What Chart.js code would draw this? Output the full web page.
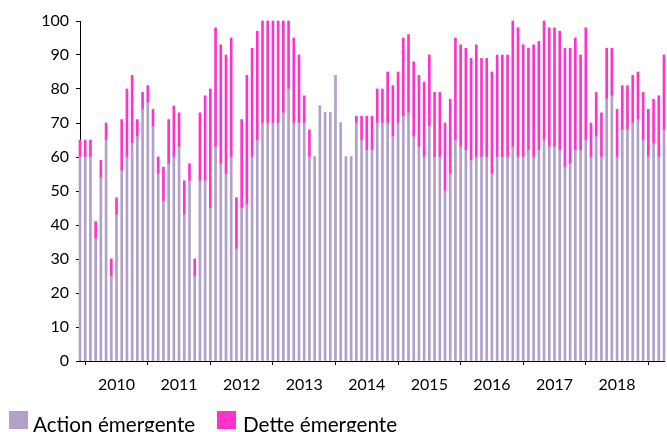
<!DOCTYPE html>
<html>
<head>
<meta charset="utf-8">
<script src="https://cdn.jsdelivr.net/npm/chart.js@4/dist/chart.umd.min.js"></script>
<style>
    html, body { margin: 0; padding: 0; background: #fff; overflow: hidden; }
    #wrap { position: relative; width: 667px; height: 432px; }
    .legend-item { position: absolute; top: 411px; font: 20.7px Lato, sans-serif; color: #000; line-height: 20px; white-space: nowrap; }
    .legend-box { position: absolute; top: 0; width: 19px; height: 18px; }
    .legend-text { position: absolute; top: 3px; }
</style>
</head>
<body>
<div id="wrap">
    <canvas id="fundChart" width="667" height="432"></canvas>
    <div class="legend-item" style="left:9px"><span class="legend-box" style="left:0;background:#b1a0c7"></span><span class="legend-text" style="left:24px">Action émergente</span></div>
    <div class="legend-item" style="left:217px"><span class="legend-box" style="left:0;background:#ff33cc"></span><span class="legend-text" style="left:26px">Dette émergente</span></div>
</div>
<script>
// monthly series, Dec 2009 -> Apr 2019
const years = [2009, 2010, 2011, 2012, 2013, 2014, 2015, 2016, 2017, 2018, 2019];
const yearLabels = ["2010", "2011", "2012", "2013", "2014", "2015", "2016", "2017", "2018"];

const actionEmergente = [
    60,
    60, 60, 36, 54, 65, 25, 43, 56, 60, 64, 66, 74,
    76, 69, 55, 47, 58, 60, 63, 43, 53, 25, 53, 53,
    45, 63, 58, 55, 60, 33, 45, 46, 60, 65, 70, 70,
    70, 70, 73, 80, 70, 70, 70, 60, 60, 75, 73, 73,
    84, 70, 60, 60, 70, 65, 62, 62, 70, 70, 70, 66,
    70, 72, 73, 66, 63, 60, 69, 60, 60, 50, 55, 65,
    63, 62, 59, 60, 60, 60, 55, 60, 60, 60, 63, 60,
    60, 62, 60, 62, 65, 63, 63, 62, 57, 58, 62, 62,
    65, 60, 66, 60, 77, 78, 60, 68, 68, 70, 71, 65,
    60, 64, 60, 68
];

const detteEmergente = [
    5,
    5, 5, 5, 5, 5, 5, 5, 15, 20, 20, 5, 5,
    5, 5, 5, 10, 13, 15, 10, 10, 5, 5, 20, 25,
    35, 35, 35, 35, 35, 15, 26, 38, 32, 32, 30, 30,
    30, 30, 27, 20, 25, 20, 8, 8, 0, 0, 0, 0,
    0, 0, 0, 0, 2, 7, 10, 10, 10, 10, 15, 15,
    15, 23, 23, 22, 21, 22, 21, 19, 19, 20, 22, 30,
    30, 30, 30, 33, 29, 29, 30, 30, 30, 30, 37, 38,
    33, 30, 33, 32, 35, 35, 35, 35, 35, 34, 33, 28,
    33, 10, 13, 13, 15, 14, 14, 13, 13, 14, 14, 14,
    14, 13, 18, 22
];

const labels = [];
years.forEach(y => {
    for (let m = 1; m <= 12; m++) {
        if ((y === 2009 && m < 12) || (y === 2019 && m > 4)) continue;
        labels.push(y + "-" + String(m).padStart(2, "0"));
    }
});

const isJanuary = i => labels[i] && labels[i].endsWith("-01") && i > 0;

new Chart(document.getElementById("fundChart"), {
    type: "bar",
    data: {
        labels: labels,
        datasets: [
            { label: "Action émergente", data: actionEmergente, backgroundColor: "#b1a0c7", barThickness: 2, clip: false },
            { label: "Dette émergente", data: detteEmergente, backgroundColor: "#ff33cc", barThickness: 2, clip: false }
        ]
    },
    options: {
        responsive: false,
        animation: false,
        layout: { padding: { top: 21, right: 3, bottom: 31, left: 0 } },
        plugins: {
            legend: { display: false },
            tooltip: { enabled: false }
        },
        scales: {
            x: {
                stacked: true,
                offset: false,
                afterFit: s => {
                    s.height = 40;
                    s.paddingLeft = 0;
                    s.paddingRight = 0;
                },
                border: { color: "#000", width: 1 },
                grid: {
                    offset: false,
                    drawOnChartArea: false,
                    tickLength: 4,
                    tickColor: ctx => isJanuary(ctx.index) ? "#000" : "rgba(0,0,0,0)"
                },
                ticks: {
                    autoSkip: false,
                    maxRotation: 0,
                    minRotation: 0,
                    padding: 10,
                    color: "#000",
                    font: { family: "Lato", size: 16 },
                    callback: (v, i) => {
                        const l = labels[i];
                        if (l.endsWith("-07") && yearLabels.includes(l.slice(0, 4))) return l.slice(0, 4);
                        return "";
                    }
                }
            },
            y: {
                stacked: true,
                min: 0,
                max: 100,
                afterFit: s => { s.width = 80; },
                border: { color: "#000", width: 1 },
                grid: { drawOnChartArea: false, tickLength: 4, tickColor: "#000" },
                ticks: {
                    stepSize: 10,
                    padding: 7,
                    color: "#000",
                    font: { family: "Lato", size: 16 }
                }
            }
        }
    }
});
</script>
</body>
</html>
